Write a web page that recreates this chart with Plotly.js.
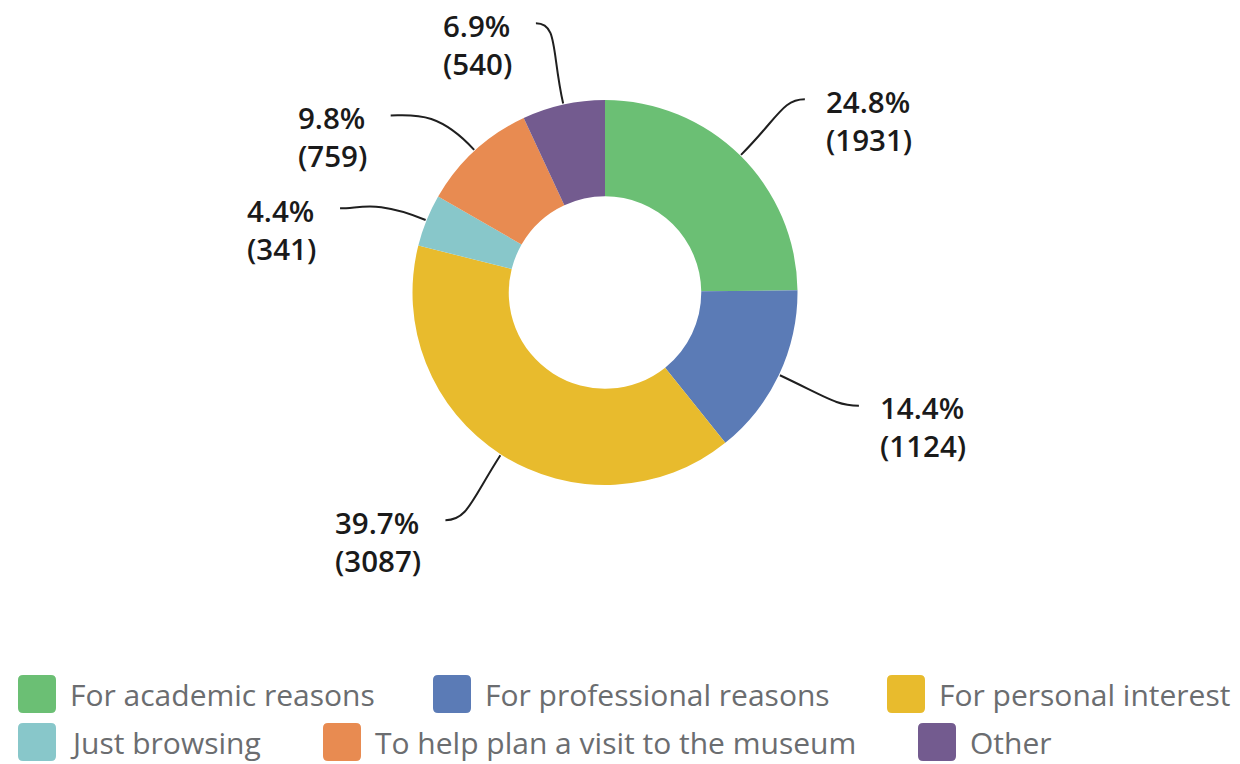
<!DOCTYPE html>
<html>
<head>
<meta charset="utf-8">
<script src="https://cdn.plot.ly/plotly-3.0.1.min.js"></script>
<style>
  html, body { margin: 0; padding: 0; background: #ffffff; }
  #chart { width: 1240px; height: 764px; }
</style>
</head>
<body>
<div id="chart"></div>
<script>
// ---- data ----
const categories = [
  "For academic reasons",
  "For professional reasons",
  "For personal interest",
  "Just browsing",
  "To help plan a visit to the museum",
  "Other"
];
const values = [1931, 1124, 3087, 341, 759, 540];
const colors = ["#6bbf74", "#5b7bb6", "#e8bb2d", "#88c7ca", "#e88b51", "#735b8f"];

// ---- layout / style constants (pixels) ----
const W = 1240, H = 764;
const CX = 605, CY = 292.5, R = 192.5;
const HOLE = 0.5;
const labelRadius = 278;
const labelAngleNudge = [1.3, -1.3, 2.3, -4.4, -7.9, -1.9]; // degrees, to avoid label crowding
const legendX = [18, 433, 887, 18, 323, 918];
const legendRow = [0, 0, 0, 1, 1, 1];
const legendRowCenters = [694, 742];
const SQ = 38;

const px = x => x / W;
const py = y => 1 - y / H;

const total = values.reduce((a, b) => a + b, 0);

function pt(angleDeg, r) {
  const a = angleDeg * Math.PI / 180;
  return [CX + r * Math.sin(a), CY - r * Math.cos(a)];
}

const shapes = [];
const annotations = [];
let cum = 0;
values.forEach((v, i) => {
  const frac = v / total;
  const mid = (cum + frac / 2) * 360;
  cum += frac;
  const s = pt(mid, R + 1);
  const p1 = pt(mid, R + 55);
  const e = pt(mid + labelAngleNudge[i], labelRadius);
  const right = e[0] > CX;
  const p2 = [e[0] + (right ? -22 : 22), e[1]];
  shapes.push({
    type: "path",
    xref: "paper", yref: "paper",
    path: `M ${px(s[0])},${py(s[1])} C ${px(p1[0])},${py(p1[1])} ${px(p2[0])},${py(p2[1])} ${px(e[0])},${py(e[1])}`,
    line: { color: "#1f1f1f", width: 2 }
  });
  const pct = (frac * 100).toFixed(1);
  annotations.push({
    xref: "paper", yref: "paper",
    x: px(right ? e[0] + 19 : e[0] - 22),
    y: py(e[1] + 21),
    xanchor: right ? "left" : "right",
    yanchor: "middle",
    align: "left",
    showarrow: false,
    text: `${pct}%<br>(${v})`,
    font: { family: "Open Sans, sans-serif", size: 29.5, color: "#1a1a1a", weight: 600 }
  });
});

// custom legend
categories.forEach((c, i) => {
  const x0 = legendX[i];
  const yc = legendRowCenters[legendRow[i]];
  const x1 = x0 + SQ, y0 = yc - SQ / 2, y1 = yc + SQ / 2, rr = 5;
  const path = `M ${px(x0 + rr)},${py(y0)} L ${px(x1 - rr)},${py(y0)} Q ${px(x1)},${py(y0)} ${px(x1)},${py(y0 + rr)} ` +
    `L ${px(x1)},${py(y1 - rr)} Q ${px(x1)},${py(y1)} ${px(x1 - rr)},${py(y1)} ` +
    `L ${px(x0 + rr)},${py(y1)} Q ${px(x0)},${py(y1)} ${px(x0)},${py(y1 - rr)} ` +
    `L ${px(x0)},${py(y0 + rr)} Q ${px(x0)},${py(y0)} ${px(x0 + rr)},${py(y0)} Z`;
  shapes.push({
    type: "path", xref: "paper", yref: "paper", path: path,
    fillcolor: colors[i], line: { width: 0 }
  });
  annotations.push({
    xref: "paper", yref: "paper",
    x: px(x0 + 50), y: py(yc),
    xanchor: "left", yanchor: "middle",
    showarrow: false,
    text: c,
    font: { family: "Open Sans, sans-serif", size: 30, color: "#6b6d70", weight: 400 }
  });
});

const trace = {
  type: "pie",
  labels: categories,
  values: values,
  hole: HOLE,
  sort: false,
  direction: "clockwise",
  rotation: 0,
  textinfo: "none",
  hoverinfo: "label+value+percent",
  marker: { colors: colors, line: { width: 0 } },
  domain: {
    x: [px(CX - R), px(CX + R)],
    y: [py(CY + R), py(CY - R)]
  },
  showlegend: false
};

const layout = {
  width: W, height: H,
  margin: { l: 0, r: 0, t: 0, b: 0 },
  paper_bgcolor: "#ffffff",
  showlegend: false,
  shapes: shapes,
  annotations: annotations
};

Plotly.newPlot("chart", [trace], layout, { displayModeBar: false, staticPlot: true });
</script>
</body>
</html>
